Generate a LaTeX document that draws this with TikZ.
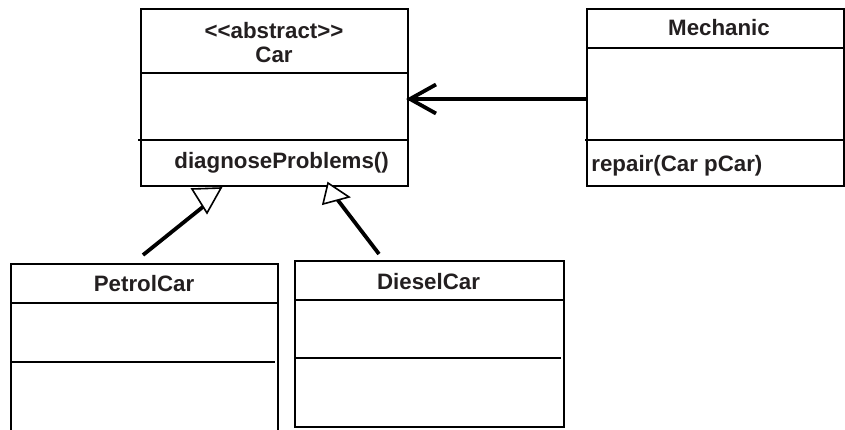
\documentclass[tikz,border=0pt]{standalone}
\usepackage{fontspec}
\setmainfont{Liberation Sans}[Ligatures=TeXOff]
\usetikzlibrary{fit}
\definecolor{txt}{RGB}{35,31,32}
\begin{document}
\begin{tikzpicture}[x=0.5pt,y=-0.5pt,
  box/.style={draw=black, line width=0.8pt, inner sep=0pt, outer sep=0pt},
  sep/.style={draw=black, line width=0.8pt},
  lbl/.style={font=\fontsize{11.15}{13}\selectfont\bfseries, text=txt, inner sep=0pt},
  conn/.style={draw=black, line width=1.9pt},
  tri/.style={draw=black, line width=0.8pt, fill=white, line join=miter}]
\useasboundingbox (0,0) rectangle (845,429);
\clip (0,0) rectangle (845,429);
% Car
\node[box, fit={(141,9) (408,186)}] (car) {};
\draw[sep] (141,73) -- (408,73);
\draw[sep] (138,140) -- (408,140);
\node[lbl] (carst) at (274,31) {<<abstract>>};
\node[lbl] (carname) at (274,55) {Car};
\node[lbl, anchor=west] (carop) at (174,163) {diagnoseProblems()};
% Mechanic
\node[box, fit={(587,9) (844,186)}] (mech) {};
\draw[sep] (587,48) -- (845,48);
\draw[sep] (585,140) -- (845,140);
\node[lbl] (mechname) at (719,28) {Mechanic};
\node[lbl, anchor=west] (mechop) at (591,166) {repair(Car pCar)};
% PetrolCar
\draw[box] (11,440) -- (11,264) -- (278,264) -- (278,440);
\coordinate (petrol) at (144.5,264);
\draw[sep] (11,303) -- (278,303);
\draw[sep] (11,362) -- (275,362);
\node[lbl] (petrolname) at (144,284) {PetrolCar};
% DieselCar
\node[box, fit={(295,261) (564,427)}] (diesel) {};
\draw[sep] (295,300) -- (564,300);
\draw[sep] (295,358) -- (561,358);
\node[lbl] (dieselname) at (428.5,282) {DieselCar};
% association Mechanic -> Car
\coordinate (mechfrom) at (587,99);
\coordinate (cartip) at (410,99);
\draw[conn] (mechfrom) -- (cartip);
\draw[conn, line join=miter] (436,84.5) -- (cartip) -- (436,113.5);
% generalization PetrolCar -> Car
\coordinate (g1s) at (143,255);
\coordinate (g1e) at (204,206);
\draw[conn] (g1s) -- (g1e);
\draw[tri] (192,189) -- (221,188) -- (207,213) -- cycle;
% generalization DieselCar -> Car
\coordinate (g2s) at (379,254);
\coordinate (g2e) at (337,199);
\draw[conn] (g2s) -- (g2e);
\draw[tri] (328,183) -- (349,197) -- (323,204) -- cycle;
\end{tikzpicture}
\end{document}
